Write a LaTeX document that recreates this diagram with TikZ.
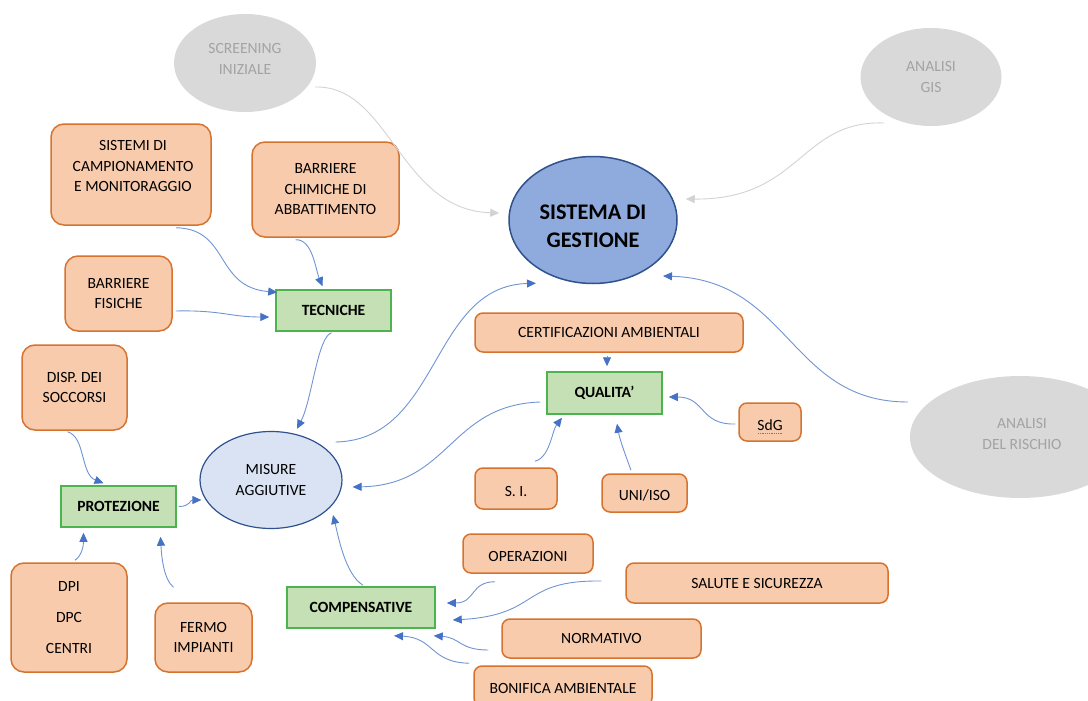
\documentclass[tikz,border=0pt]{standalone}
\usepackage{fontspec}
\setmainfont{Carlito}
\usetikzlibrary{arrows.meta,calc,shapes.geometric}

\definecolor{boxfill}{HTML}{F8CBAD}
\definecolor{boxline}{HTML}{D5732F}
\definecolor{grnfill}{HTML}{C5E0B4}
\definecolor{grnline}{HTML}{4DB34F}
\definecolor{sgfill}{HTML}{8FAADC}
\definecolor{sgline}{HTML}{2F528F}
\definecolor{misfill}{HTML}{DAE3F3}
\definecolor{greyfill}{HTML}{D9D9D9}
\definecolor{greytext}{HTML}{A3A3A3}
\definecolor{greyline}{HTML}{D3D3D3}
\definecolor{linkc}{HTML}{7094D3}
\definecolor{tipc}{HTML}{4472C4}
\definecolor{spell}{HTML}{E05050}

\tikzset{
  every node/.style={font=\fontsize{15.6}{20.5}\selectfont, inner sep=0pt, text=black},
  ob/.style={draw=boxline, fill=boxfill, line width=1.5pt, rounded corners=8pt, align=center},
  obig/.style={ob, rounded corners=13pt},
  gb/.style={draw=grnline, fill=grnfill, line width=1.5pt,
             font=\fontsize{15.6}{20.5}\selectfont\bfseries},
  ghost/.style={ellipse, fill=greyfill},
  ghosttext/.style={align=center, text=greytext, font=\fontsize{15.6}{21}\selectfont},
  link/.style={draw=linkc, line width=0.9pt,
               -{Triangle[length=9pt,width=8pt,color=tipc]}},
  glink/.style={draw=greyline, line width=0.9pt,
                -{Triangle[length=9pt,width=8pt,color=greyline]}},
}

\begin{document}
\begin{tikzpicture}[x=1pt,y=-1pt]
\useasboundingbox (0,0) rectangle (1088,701);
\clip (0,0) rectangle (1088,701);

% ---------- grey outer inputs ----------
\node[ghost, minimum width=142pt, minimum height=98pt] (scr) at (245,63) {};
\node[ghosttext] (scr-t) at (245,59) {SCREENING\\INIZIALE};
\node[ghost, minimum width=141pt, minimum height=98pt] (gis) at (931,77) {};
\node[ghosttext] (gis-t) at (931,77) {ANALISI\\GIS};
\node[ghost, minimum width=220pt, minimum height=122pt] (ris) at (1020,437) {};
\node[ghosttext] (ris-t) at (1022,434) {ANALISI\\DEL RISCHIO};

% ---------- central ellipses ----------
\node[ellipse, draw=sgline, fill=sgfill, line width=1.5pt,
      minimum width=168pt, minimum height=127pt] (sg) at (593,220) {};
\node[align=center, font=\fontsize{22.3}{28}\selectfont\bfseries] (sg-t) at (593,226) {SISTEMA DI\\GESTIONE};
\node[ellipse, draw=sgline, fill=misfill, line width=1.2pt, align=center,
      minimum width=142pt, minimum height=97pt] (mis) at (271,480) {MISURE\\AGGIUTIVE};

% ---------- TECNICHE branch ----------
\node[obig, minimum width=160pt, minimum height=101pt] (sis) at (131,174.5) {};
\node[align=center] (sis-t) at (133,166) {SISTEMI DI\\CAMPIONAMENTO\\E MONITORAGGIO};
\node[obig, minimum width=147pt, minimum height=95pt] (chim) at (325.5,189.5) {BARRIERE\\CHIMICHE DI\\ABBATTIMENTO};
\node[obig, minimum width=107pt, minimum height=75pt] (fis) at (118.5,293.5) {BARRIERE\\FISICHE};
\node[gb, minimum width=115pt, minimum height=41pt] (tec) at (333.5,310.5) {TECNICHE};

% ---------- PROTEZIONE branch ----------
\node[obig, minimum width=105pt, minimum height=85pt] (disp) at (74.5,387.5) {DISP. DEI\\SOCCORSI};
\node[gb, minimum width=115pt, minimum height=41pt] (prot) at (118.5,506.5) {PROTEZIONE};
\node[obig, minimum width=116pt, minimum height=109pt] (dpi) at (69,617.5) {DPI\\[10.5pt]DPC\\[10.5pt]CENTRI};
\node[obig, minimum width=97pt, minimum height=69pt] (fermo) at (203.5,637.5) {FERMO\\IMPIANTI};

% ---------- QUALITA' branch ----------
\node[ob, minimum width=268pt, minimum height=39pt] (cert) at (609,332.5) {CERTIFICAZIONI AMBIENTALI};
\node[gb, minimum width=115pt, minimum height=42pt] (qual) at (604.5,393) {QUALITA’};
\node[ob, minimum width=62pt, minimum height=38pt] (sdg) at (770,422) {};
\node (sdg-t) at (770,425) {SdG};
\draw[spell, line width=0.8pt, densely dotted] ($(sdg-t.south)+(-12,3)$) -- ($(sdg-t.south)+(12,3)$);
\node[ob, minimum width=82pt, minimum height=41pt] (si) at (516,488.5) {};
\node (si-t) at (516,491) {S. I.};
\node[ob, minimum width=85pt, minimum height=38pt] (uni) at (644.5,493) {};
\node (uni-t) at (644.5,495) {UNI/ISO};

% ---------- COMPENSATIVE branch ----------
\node[gb, minimum width=148pt, minimum height=41pt] (comp) at (361,607.5) {COMPENSATIVE};
\node[ob, minimum width=130pt, minimum height=39pt] (oper) at (528,553.5) {};
\node (oper-t) at (528,556) {OPERAZIONI};
\node[ob, minimum width=262pt, minimum height=40pt] (sal) at (757,583) {SALUTE E SICUREZZA};
\node[ob, minimum width=199pt, minimum height=39pt] (norm) at (601.5,638.5) {NORMATIVO};
\node[ob, minimum width=178pt, minimum height=40pt] (bon) at (563,686) {};
\node (bon-t) at (563,688) {BONIFICA AMBIENTALE};

% ---------- grey connectors ----------
\draw[glink] ($(scr.center)+(70,24)$) .. controls +(75,-2) and +(-100,-3) .. ($(sg.west)+(-9,-7)$);
\draw[glink] ($(gis.center)+(-47,46)$) .. controls +(-84,-3) and +(115,1) .. ($(sg.east)+(8,-21)$);

% ---------- blue connectors ----------
\draw[link] ($(sis.south)+(45,2)$) .. controls +(54,1) and +(-63,-5) .. ($(tec.north west)+(2,3)$);
\draw[link] ($(chim.south)+(-30,2)$) .. controls +(17,-1) and +(-7,-17) .. ($(tec.north)+(-11,-3)$);
\draw[link] ($(fis.east)+(3,17.5)$) .. controls +(46,-1) and +(-40,0) .. ($(tec.west)+(-6,6.5)$);
\draw[link] ($(tec.south)+(-2,1)$) .. controls +(-14,4) and +(15,-29) .. ($(mis.north)+(26,-2)$);

\draw[link] ($(disp.south)+(-7,1)$) .. controls +(18,5) and +(-23,-9) .. ($(prot.north)+(-15,-2)$);
\draw[link] ($(prot.east)+(2,0)$) .. controls +(12,0) and +(-12,0) .. ($(mis.west)+(2,20)$);
\draw[link] ($(dpi.north)+(6,-2)$) .. controls +(7,-5) and +(0,13) .. ($(prot.south)+(-35,5)$);
\draw[link] ($(fermo.north)+(-30,-15)$) .. controls +(-10,-8) and +(1,19) .. ($(prot.south)+(42,9)$);

\draw[link] ($(comp.north)+(2,-1)$) .. controls +(-18,-11) and +(5,20) .. ($(mis.center)+(62,35)$);
\draw[link] ($(qual.west)+(-6,9)$) .. controls +(-91,3) and +(98,-2) .. ($(mis.east)+(10,7)$);
\draw[link] ($(mis.east)+(-7,-38)$) .. controls +(105,-2) and +(-106,3) .. ($(sg.south)+(-57,-1)$);
\draw[link] ($(ris.west)+(-2,-35)$) .. controls +(-118,0) and +(127,4) .. ($(sg.center)+(70,56)$);

\draw[link] ($(cert.south)+(-2,3)$) -- ($(qual.north)+(2.5,-5)$);
\draw[link] ($(sdg.west)+(-3,2)$) .. controls +(-36,1) and +(37,0) .. ($(qual.east)+(6,4)$);
\draw[link] ($(si.north)+(19,-6)$) .. controls +(15,-4) and +(-10,13) .. ($(qual.south)+(-42.5,3)$);
\draw[link] ($(uni.north)+(-13.5,-3)$) .. controls +(-4,-11) and +(3,17) .. ($(qual.south)+(12.5,9)$);

\draw[link] ($(oper.south)+(-33,8)$) .. controls +(-25,0) and +(29,0) .. ($(comp.east)+(11,-4.5)$);
\draw[link] ($(sal.west)+(-24,-2)$) .. controls +(-82,-1) and +(88,-5) .. ($(comp.east)+(17,12.5)$);
\draw[link] ($(norm.west)+(-13,11.5)$) .. controls +(-29,0) and +(27,2) .. ($(comp.south east)+(-2,7)$);
\draw[link] ($(bon.north west)+(-4,-2)$) .. controls +(-40,-1) and +(41,2) .. ($(comp.south)+(33,7)$);
\end{tikzpicture}
\end{document}
